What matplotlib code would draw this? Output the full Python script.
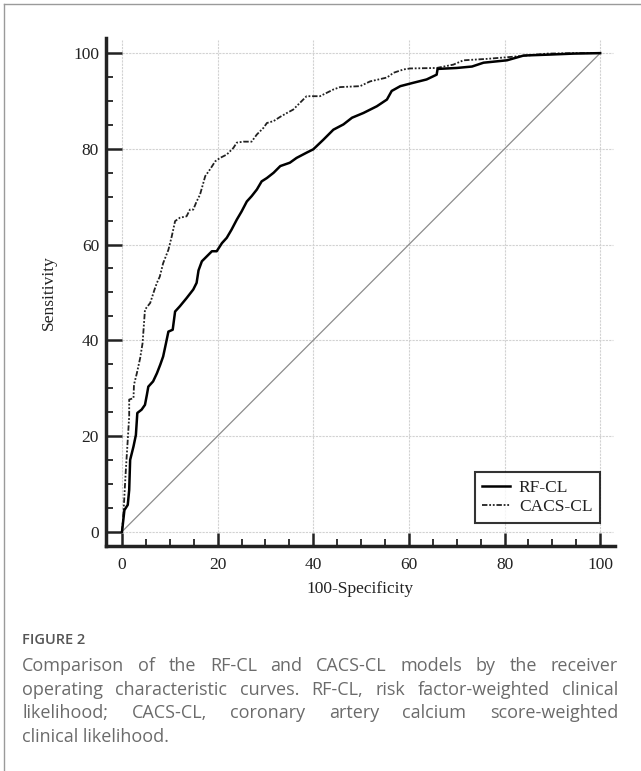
import matplotlib
matplotlib.use("Agg")
import matplotlib.pyplot as plt
from matplotlib.lines import Line2D
from matplotlib.ticker import MultipleLocator

# ROC points (100-Specificity, Sensitivity)
rf_x = [0, 0.5, 1.2, 1.5, 1.7, 2.4, 2.9, 3.2, 4.1, 4.8, 5.2, 5.5, 6.5, 7.3, 8.0, 8.6,
        9.2, 9.7, 10.6, 11.1, 12.1, 13.5, 14.9, 15.6, 16.0, 16.7, 17.7, 18.8, 19.8,
        20.9, 21.9, 22.9, 24.0, 25.0, 26.1, 27.1, 28.2, 29.2, 30.3, 31.7, 33.1, 35.1,
        36.5, 38.6, 40.0, 42.1, 44.2, 46.3, 48.1, 50.5, 53.3, 55.4, 56.4, 58.2, 60.9,
        63.7, 65.8, 66.0, 70.0, 73.2, 75.6, 80.5, 84.0, 89.5, 94.4, 100]
rf_y = [0, 4.5, 5.6, 8.7, 15.0, 17.8, 20.2, 24.8, 25.5, 26.5, 28.6, 30.3, 31.4, 33.1,
        34.9, 36.6, 39.4, 41.8, 42.2, 46.0, 47.1, 48.8, 50.6, 52.0, 54.6, 56.5, 57.5,
        58.6, 58.6, 60.3, 61.4, 63.1, 65.2, 66.9, 69.0, 70.1, 71.5, 73.2, 73.9, 75.0,
        76.4, 77.1, 78.1, 79.2, 79.9, 81.9, 84.0, 85.1, 86.5, 87.5, 88.9, 90.3, 92.1,
        93.1, 93.8, 94.5, 95.5, 96.7, 96.9, 97.2, 98.0, 98.5, 99.5, 99.7, 99.9, 100]

cacs_x = [0, 0.3, 0.6, 0.8, 1.2, 1.5, 1.5, 2.4, 2.5, 3.1, 3.8, 4.3, 4.5, 4.8, 5.9, 6.8,
          7.3, 7.9, 8.6, 9.7, 10.4, 11.1, 12.1, 13.5, 14.2, 14.9, 15.6, 16.3, 16.9,
          17.4, 18.4, 19.5, 20.5, 21.9, 23.3, 24.0, 25.4, 27.1, 28.2, 29.6, 30.3, 31.7,
          33.1, 34.5, 35.8, 37.2, 38.6, 41.4, 44.2, 45.6, 49.8, 51.9, 55.4, 56.8, 58.9,
          60.3, 65.8, 69.3, 71.4, 76.3, 81.2, 84.7, 88.9, 94.4, 100]
cacs_y = [0, 3.8, 9.4, 12.9, 19.2, 24.1, 27.6, 27.9, 30.7, 33.1, 36.3, 39.4, 42.2, 46.4,
          47.8, 50.6, 52.0, 53.3, 56.1, 58.9, 61.7, 64.9, 65.6, 65.9, 67.3, 67.3, 69.0,
          70.4, 72.5, 74.3, 75.7, 77.4, 78.1, 78.8, 80.2, 81.3, 81.5, 81.5, 83.0, 84.4,
          85.4, 85.8, 86.7, 87.5, 88.2, 89.6, 91.0, 91.0, 92.4, 92.9, 93.1, 94.1, 94.9,
          95.9, 96.6, 96.8, 96.9, 97.6, 98.5, 98.8, 99.2, 99.5, 99.9, 100, 100]

series_names = ["RF-CL", "CACS-CL"]
ticks = [0, 20, 40, 60, 80, 100]

caption_head = "FIGURE 2"
caption_lines = [
    "Comparison of the RF-CL and CACS-CL models by the receiver",
    "operating characteristic curves. RF-CL, risk factor-weighted clinical",
    "likelihood; CACS-CL, coronary artery calcium score-weighted",
    "clinical likelihood.",
]

W, H = 641, 771
fig = plt.figure(figsize=(W / 100, H / 100), dpi=100)
serif = ["Liberation Serif", "DejaVu Serif"]

ax = fig.add_axes([106 / W, 1 - 546 / H, (615 - 106) / W, (546 - 38.3) / H])
ax.set_xlim(-3.35, 103.1)
ax.set_ylim(-3.0, 103.1)

# grid drawn only over the data area
for t in ticks:
    ax.plot([t, t], [0, 102.8], color="#d2d2d2", lw=0.8, ls=(0, (2, 1)), zorder=1)
    ax.plot([0, 102.7], [t, t], color="#d2d2d2", lw=0.8, ls=(0, (2, 1)), zorder=1)

ax.plot([0, 100], [0, 100], color="#8c8c8c", lw=0.9, zorder=2)
ax.plot(rf_x, rf_y, color="black", lw=1.8, label=series_names[0], zorder=4)
ax.plot(cacs_x, cacs_y, color="#222222", lw=1.3, ls=(0, (3, 1, 1, 1, 1, 1)),
        label=series_names[1], zorder=3)

for s in ["top", "right"]:
    ax.spines[s].set_visible(False)
for s in ["left", "bottom"]:
    ax.spines[s].set_linewidth(2.5)
    ax.spines[s].set_color("#222222")

ax.set_xticks(ticks)
ax.set_yticks(ticks)
ax.xaxis.set_minor_locator(MultipleLocator(5))
ax.yaxis.set_minor_locator(MultipleLocator(5))
ax.tick_params(axis="x", which="major", direction="in", length=9.5, width=1.8,
               pad=8, labelsize=12.5, color="#222222")
ax.tick_params(axis="y", which="major", direction="in", length=11.5, width=1.8,
               pad=5, labelsize=12.5, color="#222222")
ax.tick_params(which="minor", direction="in", length=5, width=1.3, color="#222222")
for lab in ax.get_xticklabels() + ax.get_yticklabels():
    lab.set_family(serif)
    lab.set_color("#222222")

ax.set_xlabel("100-Specificity", family=serif, fontsize=12.5, labelpad=6, color="#222222")
ax.set_ylabel("Sensitivity", family=serif, fontsize=12.5, labelpad=12, color="#222222")

leg = ax.legend(loc="lower right", bbox_to_anchor=(100, 1.8), bbox_transform=ax.transData,
                prop={"family": serif, "size": 12.5}, frameon=True, fancybox=False,
                handlelength=1.6, handletextpad=0.5, labelspacing=0.2, borderpad=0.45,
                borderaxespad=0)
leg.get_frame().set_edgecolor("black")
leg.get_frame().set_linewidth(1.5)
for t in leg.get_texts():
    t.set_color("#222222")

# page frame
fig.add_artist(Line2D([3.5 / W, 1], [1 - 3.5 / H, 1 - 3.5 / H], transform=fig.transFigure,
                      color="#9a9a9a", lw=1))
fig.add_artist(Line2D([3.5 / W, 3.5 / W], [0, 1 - 3.5 / H], transform=fig.transFigure,
                      color="#9a9a9a", lw=1))

# caption, justified like the journal layout
cap_font = ["Open Sans", "DejaVu Sans"]
cap_color = "#6b6b6b"
cap_size = 13
left_px, right_px = 22, 618
fig.text(left_px / W, 1 - 644 / H, caption_head, family=cap_font, fontsize=10.5,
         color="#555555", va="baseline", weight="semibold")

renderer = fig.canvas.get_renderer()
baselines = [671, 695, 718, 742]
for i, line in enumerate(caption_lines):
    y = 1 - baselines[i] / H
    if i == len(caption_lines) - 1:
        fig.text(left_px / W, y, line, family=cap_font, fontsize=cap_size, color=cap_color,
                 va="baseline")
        continue
    words = line.split(" ")
    texts = [fig.text(0, y, w, family=cap_font, fontsize=cap_size, color=cap_color,
                      va="baseline") for w in words]
    widths = [t.get_window_extent(renderer).width for t in texts]
    gap = max(3.0, (right_px - left_px - sum(widths)) / (len(words) - 1))
    x = left_px
    for t, w in zip(texts, widths):
        t.set_x(x / W)
        x += w + gap

fig.savefig("out.png", dpi=100)
